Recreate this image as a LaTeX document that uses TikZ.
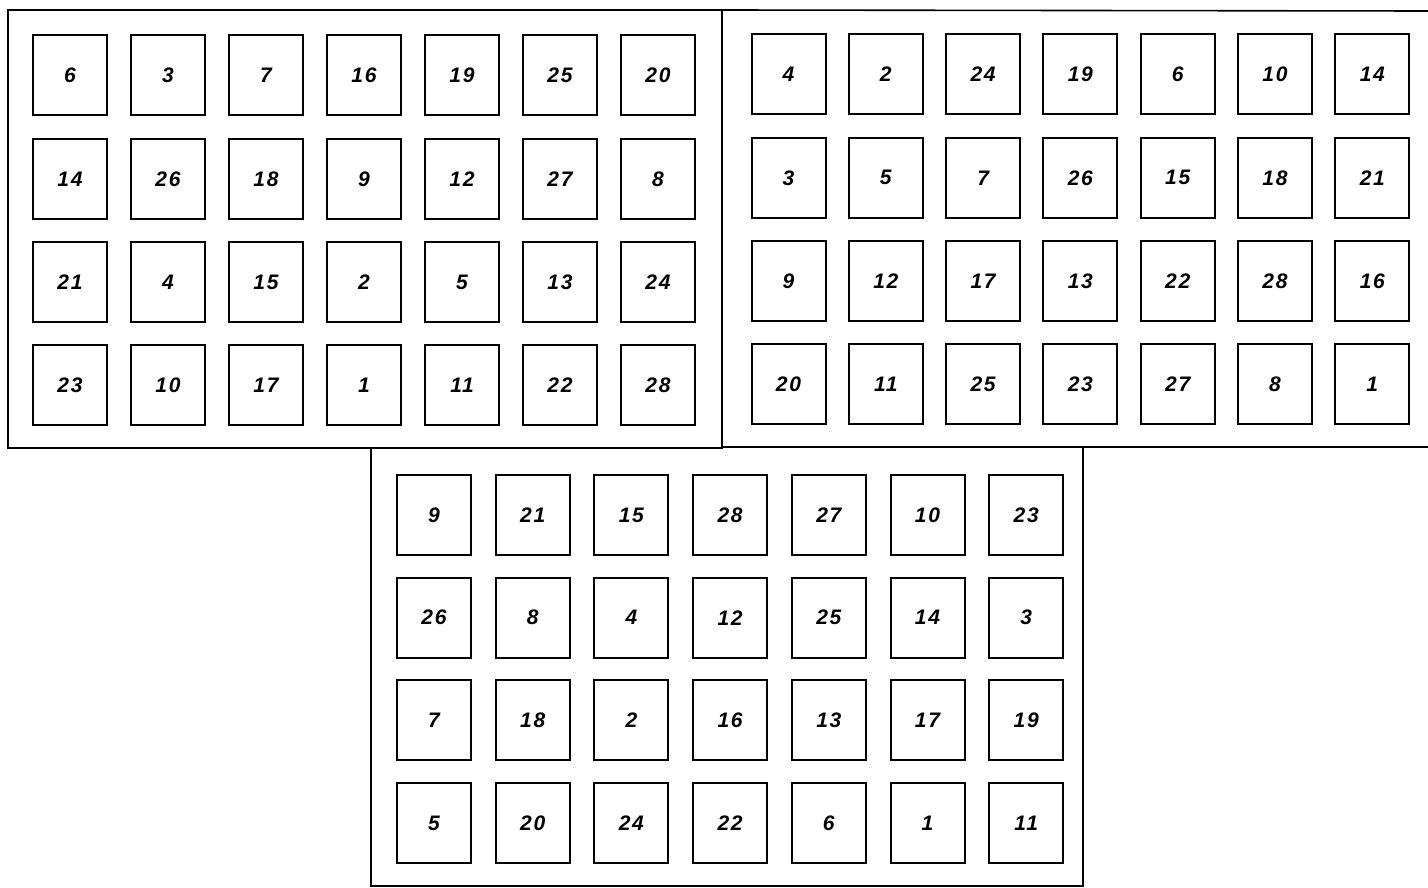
\documentclass[tikz,border=0pt]{standalone}
\usepackage{fontspec}
\setmainfont{Liberation Sans}
\begin{document}
\begin{tikzpicture}[x=1pt,y=-1pt,
  cell/.style={draw=black,line width=2pt,minimum width=74pt,minimum height=80pt,inner sep=0pt,
    font=\fontsize{21}{21}\selectfont\bfseries\itshape\addfontfeature{LetterSpace=8}},
  frame/.style={draw=black,line width=1.6pt}]
\useasboundingbox (0,0) rectangle (1428,888);
% frames
\draw[frame] (8,10) rectangle (722,448);
\draw[frame] (722,10) -- (1428,11);
\draw[frame] (722,447) -- (1428,447);
\draw[frame] (371,448) -- (371,886) -- (1083,886) -- (1083,448);
% panel 1
\foreach \row [count=\r from 0] in {{6,3,7,16,19,25,20},{14,26,18,9,12,27,8},{21,4,15,2,5,13,24},{23,10,17,1,11,22,28}}{
  \foreach \v [count=\c from 0] in \row {
    \node[cell] (pa-\r-\c) at ({70+98*\c},{75.5+103.3*\r}) {\v};
  }
}
% panel 2
\foreach \row [count=\r from 0] in {{4,2,24,19,6,10,14},{3,5,7,26,15,18,21},{9,12,17,13,22,28,16},{20,11,25,23,27,8,1}}{
  \foreach \v [count=\c from 0] in \row {
    \node[cell] (pb-\r-\c) at ({788.5+97.3*\c},{74.5+103.3*\r}) {\v};
  }
}
% panel 3
\foreach \row [count=\r from 0] in {{9,21,15,28,27,10,23},{26,8,4,12,25,14,3},{7,18,2,16,13,17,19},{5,20,24,22,6,1,11}}{
  \foreach \v [count=\c from 0] in \row {
    \node[cell] (pc-\r-\c) at ({434+98.7*\c},{515+102.7*\r}) {\v};
  }
}
\end{tikzpicture}
\end{document}
